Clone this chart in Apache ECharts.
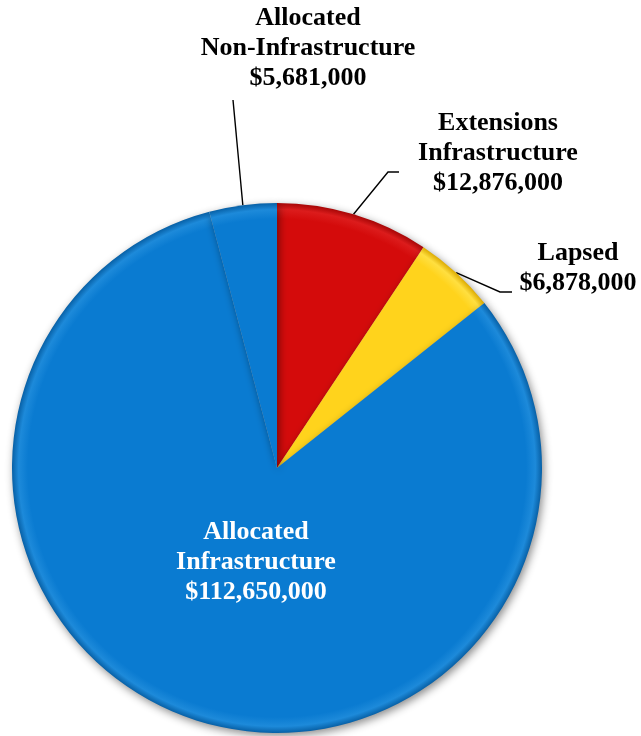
<!DOCTYPE html>
<html>
<head>
<meta charset="utf-8">
<script src="https://cdn.jsdelivr.net/npm/echarts@6/dist/echarts.min.js"></script>
<style>
html,body{margin:0;padding:0;background:#fff;}
#chart{width:641px;height:736px;}
</style>
</head>
<body>
<div id="chart"></div>
<script>
// ---- data ----
const categories = ['Extensions\nInfrastructure', 'Lapsed', 'Allocated\nInfrastructure', 'Allocated\nNon-Infrastructure'];
const values = [12876000, 6878000, 112650000, 5681000];

// ---- styling / layout (not data) ----
const CX = 277, CY = 468, R = 265;
const baseColors = ['#d40b0b', '#ffd31c', '#0a7bd1', '#0a7bd1'];
const rimLight = ['#dc1c1c', '#ffdf40', '#1d8ada', '#1d8ada'];
const rimDark = ['#a60606', '#dcaa00', '#0760a6', '#0760a6'];
const textColors = ['#000', '#000', '#fff', '#000'];
const labelAnchors = [[498, 153], [578, 268], [256, 562], [308, 48]];
// leader line bend and end positions (label side)
const leaderEnds = [[[388, 172], [399, 172]], [[500, 292], [512, 292]], null, [[233, 100], [233, 100]]];

function fill(i) {
  return {
    type: 'radial', x: CX, y: CY, r: R, global: true,
    colorStops: [
      { offset: 0, color: baseColors[i] },
      { offset: 0.94, color: baseColors[i] },
      { offset: 0.975, color: rimLight[i] },
      { offset: 1, color: rimDark[i] }
    ]
  };
}

const chart = echarts.init(document.getElementById('chart'), null, { renderer: 'canvas' });
chart.setOption({
  backgroundColor: '#ffffff',
  animation: false,
  series: [{
    type: 'pie',
    center: [CX, CY],
    radius: R,
    startAngle: 90,
    clockwise: true,
    avoidLabelOverlap: false,
    data: categories.map((name, i) => ({
      name: name,
      value: values[i],
      itemStyle: { color: fill(i) },
      label: { color: textColors[i] },
      labelLine: { show: i !== 2 }
    })),
    itemStyle: {
      shadowBlur: 8,
      shadowOffsetX: 2,
      shadowOffsetY: 3,
      shadowColor: 'rgba(0,0,0,0.45)'
    },
    label: {
      show: true,
      position: 'outside',
      formatter: p => p.name + '\n$' + p.value.toLocaleString('en-US'),
      fontFamily: 'Liberation Serif',
      fontWeight: 'bold',
      fontSize: 26,
      lineHeight: 30,
      align: 'center'
    },
    labelLine: {
      show: true,
      length: 20,
      length2: 10,
      lineStyle: { color: '#000', width: 1.4 }
    },
    labelLayout: function (params) {
      const i = params.dataIndex;
      const a = labelAnchors[i];
      const out = { x: a[0], y: a[1], align: 'center', verticalAlign: 'middle' };
      const le = leaderEnds[i];
      if (le && params.labelLinePoints && params.labelLinePoints.length) {
        const start = params.labelLinePoints[0];
        out.labelLinePoints = [[start[0], start[1]], le[0], le[1]];
      }
      return out;
    }
  }]
});
</script>
</body>
</html>
